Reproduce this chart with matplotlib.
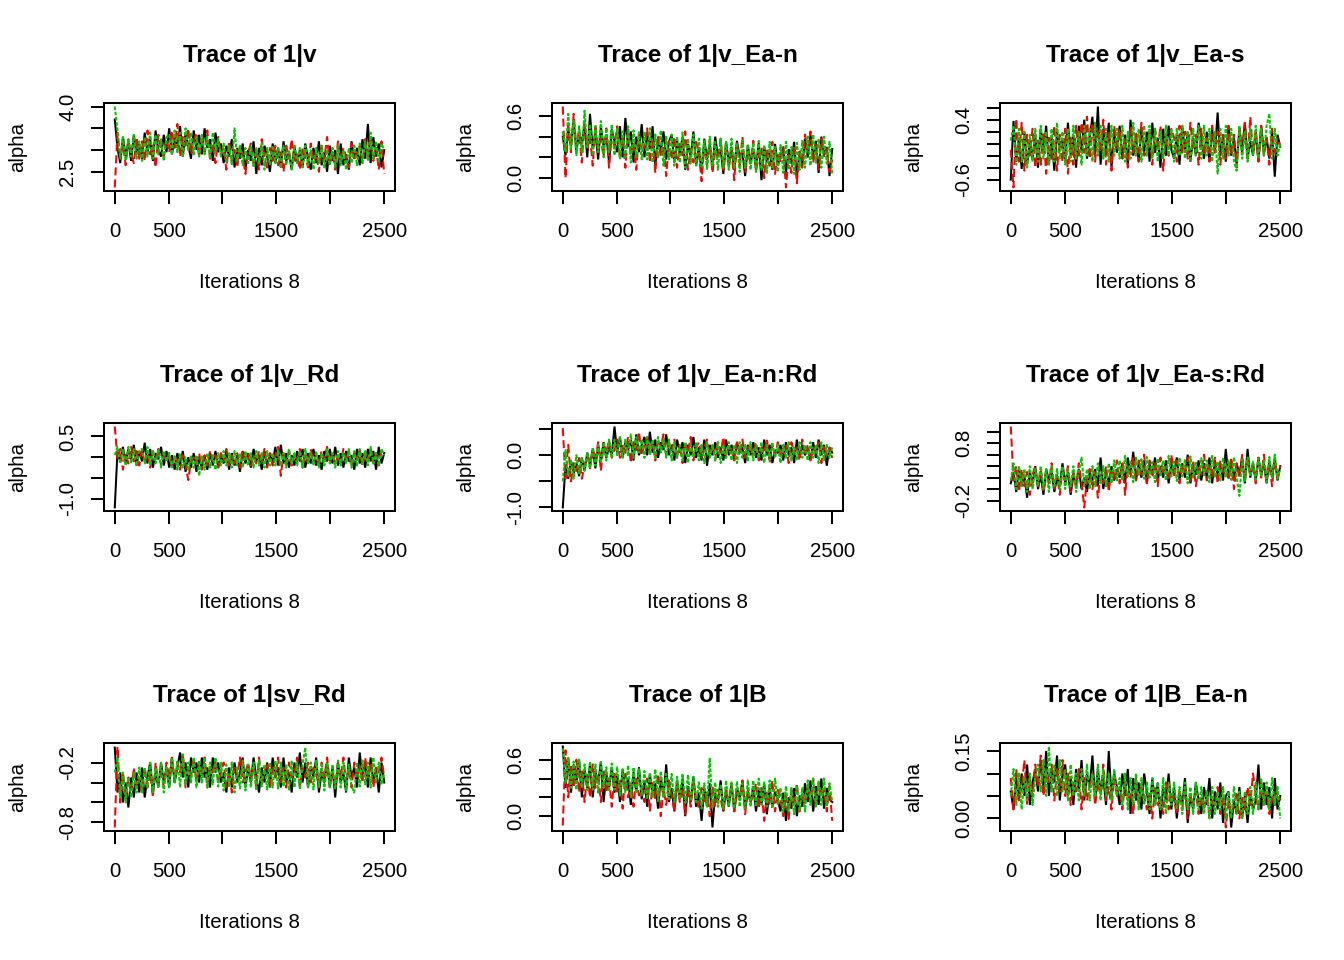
# Trace plots of 3 MCMC chains (alpha) for 9 parameters, R/coda style

import numpy as np
import matplotlib.pyplot as plt

plt.rcParams['font.family'] = ['Liberation Sans', 'DejaVu Sans']

n_iter = 2500

# values, 100 samples per chain spread evenly over the 2500 iterations
v_c1 = [3.70, 3.05, 2.70, 3.30, 2.85, 3.20, 2.75, 3.35, 2.90, 3.15,
        2.80, 3.40, 2.95, 3.25, 2.75, 3.45, 3.00, 2.85, 3.35, 2.95,
        3.50, 2.90, 3.30, 3.05, 3.55, 2.85, 3.40, 3.10, 2.80, 3.45,
        3.00, 3.35, 2.90, 3.50, 3.05, 3.25, 2.75, 3.40, 2.95, 3.15,
        2.70, 3.10, 2.85, 3.25, 2.60, 3.05, 2.80, 3.15, 2.55, 3.00,
        2.75, 3.20, 2.45, 3.05, 2.65, 3.10, 2.85, 2.50, 3.15, 2.70,
        3.05, 2.60, 3.20, 2.75, 2.95, 2.55, 3.10, 2.70, 3.00, 2.60,
        3.15, 2.80, 2.55, 3.05, 2.70, 3.20, 2.65, 2.95, 2.50, 3.10,
        2.75, 3.00, 2.45, 3.15, 2.65, 2.90, 2.55, 3.20, 2.80, 3.05,
        2.65, 3.25, 2.80, 3.60, 2.70, 3.30, 2.85, 3.15, 2.60, 3.00]
v_c2 = [2.14, 3.40, 2.85, 3.15, 2.65, 3.25, 2.90, 2.70, 3.30, 2.80,
        3.20, 2.75, 3.45, 2.90, 3.10, 2.60, 3.35, 3.00, 2.85, 3.25,
        2.95, 3.45, 3.05, 3.60, 2.85, 3.30, 3.10, 3.50, 2.90, 3.20,
        3.40, 2.85, 3.25, 2.95, 3.45, 2.80, 3.15, 2.70, 3.30, 2.90,
        3.05, 2.55, 3.20, 2.75, 3.00, 2.60, 3.10, 2.85, 2.45, 2.95,
        3.15, 2.70, 2.95, 2.55, 3.25, 2.80, 2.60, 3.05, 2.75, 3.10,
        2.65, 2.95, 2.50, 3.10, 2.80, 3.25, 2.70, 2.90, 2.55, 3.05,
        2.85, 2.60, 3.15, 2.75, 2.95, 2.50, 3.10, 2.80, 3.30, 2.65,
        2.95, 2.55, 3.20, 2.70, 3.05, 2.85, 2.60, 3.15, 2.75, 2.95,
        3.10, 2.70, 3.25, 2.85, 3.35, 2.75, 3.05, 2.55, 3.20, 2.45]
v_c3 = [4.00, 3.45, 2.80, 3.30, 2.75, 3.25, 2.85, 3.35, 2.80, 3.20,
        2.75, 3.30, 2.85, 3.40, 2.80, 3.35, 2.90, 3.25, 2.75, 3.30,
        3.35, 2.90, 3.45, 2.95, 3.40, 2.85, 3.50, 3.00, 3.40, 2.90,
        3.30, 2.85, 3.35, 2.90, 3.30, 2.80, 3.40, 2.95, 3.25, 2.85,
        3.15, 2.70, 3.10, 2.65, 3.50, 2.75, 3.10, 2.65, 3.05, 2.70,
        3.10, 2.60, 3.05, 2.70, 3.15, 2.55, 3.05, 2.65, 3.10, 2.70,
        3.05, 2.60, 3.10, 2.65, 3.00, 2.55, 3.10, 2.70, 3.05, 2.60,
        3.10, 2.65, 3.00, 2.55, 3.05, 2.70, 3.10, 2.60, 3.00, 2.65,
        3.05, 2.60, 3.10, 2.65, 3.00, 2.55, 3.05, 2.70, 3.10, 2.65,
        3.15, 2.70, 3.20, 2.75, 3.40, 2.80, 3.20, 2.70, 3.15, 3.00]

v_ean_c1 = [0.40, 0.22, 0.48, 0.30, 0.56, 0.25, 0.45, 0.33, 0.52, 0.20,
            0.62, 0.28, 0.44, 0.18, 0.50, 0.30, 0.42, 0.15, 0.47, 0.35,
            0.25, 0.50, 0.20, 0.58, 0.30, 0.45, 0.15, 0.40, 0.25, 0.52,
            0.20, 0.44, 0.28, 0.50, 0.12, 0.38, 0.25, 0.45, 0.18, 0.35,
            0.42, 0.15, 0.36, 0.22, 0.40, 0.08, 0.33, 0.20, 0.45, 0.12,
            0.30, 0.05, 0.38, 0.18, 0.32, 0.10, 0.40, 0.22, 0.28, 0.04,
            0.35, 0.15, 0.30, 0.08, 0.36, 0.20, 0.25, 0.02, 0.32, 0.14,
            0.28, 0.10, 0.34, -0.02, 0.30, 0.15, 0.26, 0.08, 0.33, 0.12,
            0.22, 0.30, 0.05, 0.28, 0.14, 0.35, 0.00, 0.26, 0.12, 0.38,
            0.20, 0.42, 0.18, 0.36, 0.05, 0.40, 0.22, 0.30, 0.02, 0.28]
v_ean_c2 = [0.69, 0.00, 0.50, 0.25, 0.62, 0.30, 0.45, 0.15, 0.55, 0.28,
            0.40, 0.12, 0.52, 0.25, 0.38, 0.20, 0.48, 0.10, 0.42, 0.30,
            0.50, 0.18, 0.40, 0.10, 0.47, 0.22, 0.35, 0.08, 0.44, 0.25,
            0.30, 0.48, 0.15, 0.38, 0.05, 0.42, 0.20, 0.32, 0.02, 0.36,
            0.18, 0.40, 0.10, 0.33, 0.22, 0.45, 0.08, 0.28, 0.15, 0.35,
            0.25, -0.03, 0.32, 0.12, 0.36, 0.05, 0.28, 0.18, 0.38, 0.08,
            0.30, 0.10, 0.26, -0.02, 0.34, 0.12, 0.40, 0.05, 0.24, 0.15,
            0.36, 0.06, 0.22, 0.30, 0.00, 0.28, 0.12, 0.35, 0.04, 0.25,
            0.15, 0.30, -0.09, 0.22, 0.05, 0.32, -0.05, 0.28, 0.10, 0.42,
            0.25, 0.45, 0.15, 0.32, 0.08, 0.38, 0.20, 0.28, 0.06, 0.18]
v_ean_c3 = [0.45, 0.25, 0.62, 0.28, 0.55, 0.22, 0.50, 0.25, 0.65, 0.30,
            0.52, 0.22, 0.50, 0.25, 0.55, 0.20, 0.48, 0.25, 0.52, 0.22,
            0.48, 0.18, 0.45, 0.20, 0.50, 0.15, 0.46, 0.20, 0.44, 0.18,
            0.45, 0.18, 0.48, 0.15, 0.42, 0.20, 0.46, 0.12, 0.40, 0.18,
            0.42, 0.12, 0.40, 0.15, 0.44, 0.10, 0.38, 0.14, 0.42, 0.12,
            0.38, 0.10, 0.36, 0.08, 0.40, 0.12, 0.35, 0.08, 0.38, 0.10,
            0.35, 0.08, 0.38, 0.10, 0.34, 0.06, 0.36, 0.10, 0.32, 0.08,
            0.34, 0.06, 0.36, 0.08, 0.32, 0.05, 0.35, 0.10, 0.30, 0.06,
            0.32, 0.05, 0.35, 0.08, 0.30, 0.04, 0.34, 0.08, 0.36, 0.10,
            0.40, 0.12, 0.42, 0.15, 0.38, 0.10, 0.40, 0.14, 0.35, 0.04]

v_eas_c1 = [-0.60, 0.38, -0.30, 0.10, -0.42, 0.20, -0.35, 0.05, -0.25, 0.15,
            -0.40, 0.25, -0.15, 0.30, -0.35, 0.10, -0.45, 0.20, -0.10, 0.05,
            -0.30, 0.35, -0.20, 0.15, -0.40, 0.30, -0.15, 0.40, -0.25, 0.10,
            0.45, -0.20, 0.62, -0.35, 0.25, -0.10, 0.35, -0.40, 0.20, -0.15,
            0.30, -0.25, 0.15, -0.35, 0.40, -0.20, 0.10, -0.30, 0.25, -0.15,
            0.20, -0.30, 0.35, -0.15, 0.10, -0.40, 0.25, -0.20, 0.30, -0.10,
            -0.25, 0.15, -0.35, 0.30, -0.15, 0.20, -0.30, 0.10, -0.20, 0.35,
            0.10, -0.25, 0.20, -0.30, 0.25, -0.15, 0.52, -0.20, 0.15, -0.30,
            0.30, -0.20, 0.10, -0.35, 0.25, -0.15, 0.35, -0.25, 0.05, -0.20,
            0.20, -0.30, 0.30, -0.15, 0.10, -0.25, 0.20, -0.55, 0.15, -0.05]
v_eas_c2 = [-0.10, -0.73, 0.42, -0.30, 0.35, -0.45, 0.15, -0.20, 0.25, -0.40,
            0.05, -0.35, 0.20, -0.50, 0.10, -0.25, 0.30, -0.45, 0.15, -0.30,
            0.25, -0.50, 0.10, -0.35, 0.30, -0.20, 0.35, -0.15, 0.45, -0.25,
            0.35, -0.30, 0.25, -0.15, 0.40, -0.35, 0.20, -0.45, 0.30, -0.10,
            0.25, -0.25, 0.10, -0.40, 0.30, -0.15, 0.20, -0.30, 0.35, -0.20,
            -0.15, 0.20, -0.35, 0.25, -0.10, 0.30, -0.45, 0.15, -0.20, 0.25,
            0.10, -0.30, 0.30, -0.15, 0.20, -0.25, 0.35, -0.10, 0.15, -0.35,
            0.25, -0.20, 0.10, -0.30, 0.30, -0.15, 0.20, -0.35, 0.15, -0.25,
            0.30, -0.20, 0.15, -0.40, 0.25, -0.10, 0.35, -0.25, 0.45, -0.15,
            0.20, -0.30, 0.30, -0.20, 0.10, -0.35, 0.25, -0.15, 0.10, -0.05]
v_eas_c3 = [0.05, 0.30, -0.35, 0.25, -0.30, 0.20, -0.40, 0.15, -0.30, 0.25,
            -0.30, 0.30, -0.25, 0.20, -0.35, 0.25, -0.30, 0.35, -0.25, 0.20,
            -0.35, 0.25, -0.30, 0.30, -0.25, 0.20, -0.35, 0.30, -0.20, 0.25,
            -0.30, 0.35, -0.20, 0.30, -0.25, 0.25, -0.30, 0.30, -0.20, 0.25,
            -0.25, 0.30, -0.30, 0.20, -0.25, 0.35, -0.20, 0.25, -0.30, 0.30,
            -0.20, 0.30, -0.25, 0.25, -0.30, 0.20, -0.25, 0.30, -0.20, 0.25,
            -0.30, 0.25, -0.20, 0.30, -0.25, 0.20, -0.30, 0.25, -0.20, 0.30,
            -0.25, 0.30, -0.20, 0.25, -0.30, 0.20, -0.50, 0.25, -0.25, 0.30,
            -0.20, 0.25, -0.30, -0.45, 0.30, -0.25, 0.20, -0.30, 0.25, -0.20,
            0.30, -0.25, 0.25, -0.20, 0.30, 0.50, -0.25, 0.25, -0.20, 0.00]

v_rd_c1 = [-1.21, 0.15, -0.10, 0.25, -0.15, 0.20, -0.05, 0.30, -0.20, 0.15,
           -0.10, 0.35, -0.15, 0.20, -0.25, 0.10, -0.05, 0.25, -0.20, 0.15,
           -0.25, 0.05, -0.30, 0.10, -0.20, 0.15, -0.35, 0.00, -0.25, 0.10,
           -0.35, -0.05, -0.25, 0.05, -0.30, 0.10, -0.20, 0.15, -0.25, 0.05,
           -0.15, 0.15, -0.30, 0.10, -0.20, 0.05, -0.35, 0.15, -0.15, 0.10,
           -0.25, 0.20, -0.10, 0.05, -0.30, 0.15, -0.20, 0.10, -0.15, 0.25,
           -0.20, 0.30, -0.15, 0.10, -0.25, 0.05, -0.20, 0.15, -0.10, 0.20,
           -0.25, 0.10, -0.15, 0.20, -0.20, 0.05, -0.30, 0.15, -0.10, 0.20,
           -0.15, 0.25, -0.20, 0.10, -0.25, 0.15, -0.10, 0.05, -0.30, 0.20,
           -0.15, 0.10, -0.25, 0.20, -0.10, 0.15, -0.30, 0.25, -0.15, 0.10]
v_rd_c2 = [0.74, -0.05, 0.20, -0.30, 0.10, -0.15, 0.25, -0.10, 0.15, -0.20,
           0.20, -0.15, 0.10, -0.25, 0.15, -0.05, 0.20, -0.20, 0.05, -0.10,
           0.10, -0.25, 0.05, -0.10, -0.30, 0.05, -0.20, -0.55, -0.10, 0.00,
           -0.15, 0.10, -0.30, 0.05, -0.20, 0.15, -0.10, 0.05, -0.25, 0.10,
           -0.10, 0.20, -0.20, 0.05, -0.15, 0.10, -0.25, 0.15, -0.05, 0.10,
           -0.20, 0.05, -0.15, 0.15, -0.10, 0.20, -0.25, 0.10, -0.20, 0.05,
           0.25, -0.45, 0.10, -0.15, 0.15, -0.20, 0.05, -0.10, 0.20, -0.25,
           0.10, -0.15, 0.20, -0.10, 0.05, -0.20, 0.15, -0.05, 0.25, -0.15,
           0.10, -0.20, 0.05, -0.15, 0.20, -0.10, 0.15, -0.25, 0.10, -0.05,
           0.15, -0.20, 0.05, -0.10, 0.20, -0.15, 0.10, -0.20, 0.15, 0.05]
v_rd_c3 = [0.05, 0.25, -0.15, 0.20, -0.20, 0.25, -0.15, 0.20, -0.20, 0.15,
           0.20, -0.15, 0.25, -0.20, 0.15, -0.15, 0.20, -0.25, 0.15, -0.10,
           0.10, -0.25, 0.05, -0.30, 0.10, -0.25, 0.00, -0.30, 0.05, -0.25,
           0.05, -0.45, 0.05, -0.30, 0.10, -0.25, 0.05, -0.30, 0.10, -0.20,
           0.15, -0.20, 0.10, -0.25, 0.15, -0.20, 0.10, -0.25, 0.15, -0.20,
           0.10, -0.25, 0.15, -0.20, 0.10, -0.25, 0.15, -0.20, 0.10, -0.20,
           0.15, -0.20, 0.10, -0.25, 0.20, -0.15, 0.10, -0.20, 0.15, -0.25,
           0.20, -0.15, 0.10, -0.20, 0.15, -0.25, 0.10, -0.20, 0.20, -0.15,
           0.10, -0.25, 0.15, -0.20, 0.10, -0.15, 0.20, -0.25, 0.15, -0.20,
           0.20, -0.15, 0.15, -0.20, 0.25, -0.15, 0.10, -0.20, 0.20, 0.05]

v_eanrd_c1 = [-1.00, -0.20, -0.45, -0.10, -0.35, -0.15, -0.40, -0.05, -0.30, 0.05,
              -0.20, 0.10, -0.25, 0.20, -0.10, 0.25, -0.05, 0.15, 0.00, 0.55,
              0.05, 0.35, -0.05, 0.25, 0.10, 0.30, -0.10, 0.40, 0.00, 0.20,
              0.35, 0.00, 0.45, 0.05, 0.30, -0.05, 0.25, 0.10, 0.40, 0.00,
              0.20, -0.10, 0.30, 0.05, 0.25, -0.15, 0.20, 0.00, 0.35, -0.05,
              0.15, -0.10, 0.30, -0.20, 0.20, 0.00, 0.25, -0.05, 0.15, -0.10,
              0.30, 0.00, 0.20, -0.10, 0.25, 0.05, 0.15, -0.15, 0.20, 0.00,
              0.25, -0.05, 0.15, -0.10, 0.30, 0.00, 0.20, -0.15, 0.10, 0.05,
              0.20, -0.10, 0.25, 0.00, 0.15, -0.15, 0.30, -0.05, 0.20, 0.00,
              0.15, -0.10, 0.25, -0.05, 0.30, 0.00, 0.20, -0.20, 0.15, 0.05]
v_eanrd_c2 = [0.52, -0.45, 0.20, -0.50, -0.15, -0.30, -0.05, -0.45, -0.20, 0.00,
              -0.25, 0.15, -0.10, 0.25, -0.30, 0.20, 0.05, 0.30, -0.05, 0.10,
              0.30, -0.05, 0.20, 0.05, 0.35, -0.15, 0.25, 0.10, 0.45, 0.00,
              0.20, 0.35, 0.05, 0.25, -0.10, 0.30, 0.15, 0.40, 0.00, 0.25,
              0.10, 0.30, -0.05, 0.20, -0.15, 0.25, 0.05, 0.35, -0.10, 0.15,
              0.25, -0.05, 0.15, 0.30, 0.00, 0.20, -0.10, 0.25, 0.05, 0.35,
              -0.05, 0.20, 0.10, -0.10, 0.25, 0.00, 0.30, -0.05, 0.15, 0.20,
              0.00, 0.25, -0.10, 0.15, 0.05, 0.30, -0.15, 0.20, 0.00, 0.25,
              -0.05, 0.15, 0.20, -0.15, 0.25, 0.05, 0.15, -0.10, 0.30, 0.00,
              0.20, -0.10, 0.15, 0.05, 0.25, -0.15, 0.20, 0.00, 0.15, -0.05]
v_eanrd_c3 = [-0.50, 0.10, -0.40, -0.10, -0.45, 0.00, -0.35, -0.05, -0.30, 0.05,
              -0.25, 0.15, -0.20, 0.20, -0.15, 0.25, -0.10, 0.30, -0.05, 0.30,
              0.00, 0.35, -0.05, 0.30, 0.00, 0.40, -0.05, 0.35, 0.05, 0.30,
              -0.05, 0.35, 0.00, 0.30, -0.05, 0.35, 0.05, 0.30, -0.05, 0.30,
              -0.10, 0.25, -0.05, 0.20, -0.10, 0.25, -0.15, 0.20, -0.05, 0.25,
              -0.10, 0.20, -0.15, 0.25, -0.05, 0.20, -0.10, 0.25, -0.15, 0.20,
              -0.05, 0.25, -0.10, 0.20, -0.15, 0.25, -0.05, 0.20, -0.10, 0.25,
              -0.10, 0.20, -0.05, 0.25, -0.15, 0.20, -0.10, 0.25, -0.05, 0.20,
              -0.15, 0.20, -0.05, 0.25, -0.10, 0.15, -0.10, 0.25, -0.05, 0.20,
              -0.10, 0.25, -0.05, 0.20, -0.15, 0.25, -0.10, 0.20, -0.05, 0.15]

v_easrd_c1 = [0.10, 0.30, -0.05, 0.35, 0.05, 0.25, -0.15, 0.30, 0.10, 0.40,
              0.00, 0.25, -0.10, 0.35, 0.15, 0.30, -0.05, 0.20, 0.05, 0.45,
              0.10, 0.30, -0.10, 0.25, 0.05, 0.35, 0.00, 0.20, -0.05, 0.30,
              0.15, 0.35, 0.05, 0.55, 0.00, 0.30, 0.10, 0.40, 0.15, 0.35,
              0.20, 0.45, 0.10, 0.55, 0.25, 0.65, 0.15, 0.45, 0.20, 0.50,
              0.10, 0.45, 0.25, 0.55, 0.15, 0.40, 0.20, 0.50, 0.10, 0.45,
              0.25, 0.55, 0.15, 0.45, 0.20, 0.60, 0.10, 0.40, 0.25, 0.50,
              0.15, 0.45, 0.20, 0.55, 0.10, 0.50, 0.25, 0.45, 0.15, 0.70,
              0.20, 0.50, 0.15, 0.45, 0.25, 0.55, 0.10, 0.70, 0.20, 0.45,
              0.15, 0.55, 0.25, 0.45, 0.10, 0.50, 0.20, 0.55, 0.15, 0.40]
v_easrd_c2 = [1.09, 0.15, 0.40, -0.05, 0.35, 0.05, 0.30, -0.10, 0.25, 0.40,
              0.05, 0.35, -0.05, 0.30, 0.10, 0.45, 0.00, 0.25, -0.10, 0.35,
              0.15, 0.40, -0.05, 0.30, 0.05, 0.45, 0.10, -0.32, 0.20, 0.35,
              0.00, 0.30, -0.15, 0.25, 0.10, 0.40, -0.05, 0.35, 0.15, 0.50,
              0.10, 0.45, -0.10, 0.40, 0.20, 0.55, 0.15, 0.50, 0.25, 0.60,
              0.10, 0.50, 0.20, 0.45, 0.05, 0.55, 0.25, 0.40, 0.15, 0.60,
              0.20, 0.50, 0.10, 0.45, 0.25, 0.55, 0.15, 0.50, 0.05, 0.40,
              0.25, 0.60, 0.15, 0.45, 0.20, 0.55, 0.10, 0.50, 0.25, 0.40,
              0.15, 0.55, 0.00, 0.45, 0.20, 0.60, 0.15, 0.50, 0.25, 0.45,
              0.10, 0.55, 0.20, 0.60, 0.15, 0.45, 0.05, 0.50, 0.20, 0.40]
v_easrd_c3 = [0.15, 0.45, 0.00, 0.40, 0.05, 0.35, -0.05, 0.40, 0.00, 0.35,
              0.05, 0.40, 0.00, 0.35, -0.05, 0.40, 0.05, 0.35, 0.00, 0.40,
              0.00, 0.35, 0.05, 0.40, -0.05, 0.30, 0.55, 0.05, 0.35, 0.00,
              0.40, 0.05, 0.45, 0.10, 0.40, 0.05, 0.45, 0.10, 0.50, 0.15,
              0.50, 0.15, 0.58, 0.22, 0.48, 0.12, 0.55, 0.25, 0.52, 0.18,
              0.56, 0.20, 0.47, 0.12, 0.53, 0.24, 0.50, 0.15, 0.58, 0.22,
              0.48, 0.14, 0.55, 0.22, 0.52, 0.10, 0.57, 0.20, 0.46, 0.16,
              0.54, 0.24, 0.50, 0.12, 0.58, 0.20, 0.48, 0.15, 0.55, 0.22,
              0.50, 0.16, 0.56, 0.20, -0.12, 0.52, 0.14, 0.55, 0.22, 0.48,
              0.16, 0.54, 0.22, 0.50, 0.12, 0.56, 0.20, 0.60, 0.18, 0.35]

sv_rd_c1 = [-0.05, -0.50, -0.30, -0.60, -0.40, -0.65, -0.35, -0.55, -0.30, -0.50,
            -0.25, -0.55, -0.35, -0.20, -0.50, -0.30, -0.45, -0.20, -0.40, -0.25,
            -0.45, -0.15, -0.40, -0.25, -0.10, -0.35, -0.20, -0.45, -0.15, -0.30,
            -0.20, -0.40, -0.15, -0.35, -0.25, -0.45, -0.15, -0.30, -0.20, -0.40,
            -0.30, -0.50, -0.25, -0.45, -0.20, -0.40, -0.30, -0.15, -0.45, -0.25,
            -0.40, -0.15, -0.35, -0.50, -0.25, -0.40, -0.20, -0.45, -0.15, -0.35,
            -0.25, -0.45, -0.15, -0.40, -0.30, -0.50, -0.20, -0.35, -0.10, -0.40,
            -0.20, -0.45, -0.25, -0.35, -0.15, -0.50, -0.30, -0.40, -0.20, -0.45,
            -0.25, -0.55, -0.20, -0.40, -0.30, -0.50, -0.15, -0.35, -0.25, -0.45,
            -0.10, -0.35, -0.20, -0.45, -0.15, -0.40, -0.25, -0.50, -0.20, -0.40]
sv_rd_c2 = [-0.85, -0.04, -0.60, -0.30, -0.55, -0.35, -0.50, -0.25, -0.45, -0.35,
            -0.50, -0.25, -0.45, -0.30, -0.55, -0.20, -0.40, -0.30, -0.45, -0.20,
            -0.35, -0.15, -0.40, -0.20, -0.30, -0.10, -0.45, -0.25, -0.35, -0.15,
            -0.40, -0.20, -0.35, -0.15, -0.45, -0.25, -0.30, -0.20, -0.40, -0.30,
            -0.20, -0.45, -0.30, -0.50, -0.25, -0.35, -0.15, -0.40, -0.30, -0.20,
            -0.35, -0.25, -0.45, -0.15, -0.40, -0.30, -0.20, -0.45, -0.25, -0.35,
            -0.15, -0.40, -0.25, -0.45, -0.20, -0.35, -0.30, -0.15, -0.45, -0.25,
            -0.35, -0.20, -0.40, -0.25, -0.30, -0.45, -0.20, -0.35, -0.15, -0.40,
            -0.30, -0.45, -0.20, -0.35, -0.15, -0.40, -0.25, -0.45, -0.20, -0.35,
            -0.25, -0.40, -0.15, -0.35, -0.20, -0.45, -0.25, -0.30, -0.15, -0.35]
sv_rd_c3 = [-0.30, -0.15, -0.55, -0.30, -0.60, -0.35, -0.55, -0.30, -0.50, -0.25,
            -0.50, -0.25, -0.45, -0.20, -0.50, -0.25, -0.45, -0.20, -0.50, -0.25,
            -0.45, -0.15, -0.40, -0.18, -0.45, -0.12, -0.42, -0.20, -0.40, -0.15,
            -0.45, -0.18, -0.40, -0.15, -0.45, -0.20, -0.42, -0.15, -0.44, -0.20,
            -0.48, -0.22, -0.45, -0.20, -0.50, -0.25, -0.46, -0.18, -0.48, -0.22,
            -0.45, -0.20, -0.48, -0.18, -0.44, -0.22, -0.47, -0.20, -0.45, -0.18,
            -0.46, -0.20, -0.44, -0.22, -0.48, -0.18, -0.45, -0.20, -0.47, -0.22,
            -0.05, -0.45, -0.20, -0.47, -0.18, -0.44, -0.22, -0.48, -0.20, -0.45,
            -0.22, -0.47, -0.18, -0.45, -0.20, -0.48, -0.22, -0.44, -0.50, -0.20,
            -0.44, -0.18, -0.42, -0.20, -0.45, -0.15, -0.40, -0.20, -0.42, -0.30]

b_c1 = [0.74, 0.30, 0.62, 0.25, 0.55, 0.35, 0.60, 0.20, 0.50, 0.30,
        0.55, 0.20, 0.48, 0.35, 0.58, 0.15, 0.45, 0.30, 0.52, 0.25,
        0.45, 0.15, 0.50, 0.28, 0.40, 0.12, 0.47, 0.25, 0.52, 0.18,
        0.38, 0.10, 0.45, 0.22, 0.35, 0.08, 0.42, 0.20, 0.55, 0.15,
        0.30, 0.05, 0.38, 0.18, 0.40, 0.00, 0.32, 0.15, 0.42, 0.10,
        0.25, -0.05, 0.30, 0.10, 0.35, -0.12, 0.25, 0.15, 0.38, 0.05,
        0.28, 0.10, 0.35, 0.05, 0.30, 0.18, 0.38, 0.08, 0.25, 0.15,
        0.32, 0.05, 0.28, 0.12, 0.35, 0.02, 0.30, 0.10, 0.26, 0.18,
        0.05, 0.25, -0.05, 0.20, 0.08, 0.30, 0.00, 0.22, 0.10, 0.35,
        0.15, 0.38, 0.05, 0.32, 0.12, 0.40, 0.08, 0.30, 0.18, 0.15]
b_c2 = [-0.10, 0.70, 0.20, 0.55, 0.30, 0.60, 0.25, 0.50, 0.15, 0.45,
        0.20, 0.55, 0.30, 0.45, 0.15, 0.50, 0.25, 0.40, 0.10, 0.45,
        0.25, 0.40, 0.08, 0.45, 0.20, 0.35, 0.10, 0.42, 0.22, 0.30,
        0.15, 0.40, 0.05, 0.35, 0.18, 0.45, 0.00, 0.30, 0.12, 0.38,
        0.22, 0.05, 0.35, 0.15, 0.30, 0.02, 0.28, 0.10, 0.36, 0.20,
        0.08, 0.30, 0.15, 0.25, 0.00, 0.32, 0.10, 0.28, 0.18, 0.05,
        0.30, 0.12, 0.35, 0.05, 0.25, 0.18, 0.38, 0.02, 0.28, 0.15,
        0.22, 0.35, 0.08, 0.30, -0.05, 0.25, 0.12, 0.38, 0.05, 0.28,
        0.18, 0.00, 0.22, -0.03, 0.28, 0.10, 0.35, 0.05, 0.25, 0.12,
        0.30, 0.15, 0.40, 0.10, 0.35, 0.20, 0.28, 0.05, 0.32, -0.05]
b_c3 = [0.72, 0.35, 0.62, 0.30, 0.58, 0.28, 0.60, 0.30, 0.55, 0.28,
        0.58, 0.28, 0.55, 0.25, 0.57, 0.30, 0.52, 0.26, 0.56, 0.28,
        0.52, 0.22, 0.50, 0.25, 0.54, 0.20, 0.52, 0.24, 0.50, 0.22,
        0.48, 0.18, 0.46, 0.20, 0.50, 0.16, 0.48, 0.20, 0.45, 0.18,
        0.45, 0.15, 0.42, 0.18, 0.45, 0.14, 0.44, 0.16, 0.42, 0.15,
        0.36, 0.08, 0.35, 0.10, 0.62, 0.08, 0.36, 0.10, 0.34, 0.08,
        0.38, 0.10, 0.36, 0.08, 0.37, 0.10, 0.35, 0.08, 0.38, 0.10,
        0.38, 0.10, 0.40, 0.12, 0.36, 0.10, 0.38, 0.08, 0.40, 0.12,
        0.30, 0.04, 0.32, 0.05, 0.30, 0.02, 0.33, 0.06, 0.30, 0.05,
        0.38, 0.12, 0.40, 0.10, 0.38, 0.12, 0.40, 0.10, 0.35, 0.15]

b_ean_c1 = [0.06, 0.02, 0.09, 0.04, 0.10, 0.05, 0.12, 0.03, 0.08, 0.11,
            0.06, 0.13, 0.07, 0.15, 0.05, 0.11, 0.08, 0.14, 0.04, 0.10,
            0.12, 0.05, 0.09, 0.03, 0.11, 0.06, 0.13, 0.04, 0.10, 0.07,
            0.14, 0.04, 0.11, 0.06, 0.09, 0.03, 0.15, 0.05, 0.10, 0.07,
            0.03, 0.10, 0.05, 0.11, 0.01, 0.09, 0.04, 0.08, 0.02, 0.10,
            0.06, 0.01, 0.09, 0.03, 0.08, 0.00, 0.07, 0.04, 0.10, 0.02,
            0.07, 0.00, 0.06, 0.03, 0.09, -0.01, 0.05, 0.02, 0.08, 0.04,
            0.01, 0.07, 0.03, 0.09, 0.00, 0.06, 0.02, 0.08, -0.01, 0.05,
            0.06, -0.02, 0.04, 0.01, 0.07, 0.00, 0.05, -0.01, 0.06, 0.02,
            0.04, 0.12, 0.02, 0.08, 0.03, 0.07, 0.00, 0.09, 0.02, 0.05]
b_ean_c2 = [0.09, 0.02, 0.11, 0.04, 0.07, 0.13, 0.03, 0.09, 0.05, 0.12,
            0.07, 0.14, 0.05, 0.10, 0.08, 0.12, 0.04, 0.11, 0.06, 0.13,
            0.05, 0.10, 0.03, 0.08, 0.06, 0.11, 0.02, 0.09, 0.04, 0.07,
            0.10, 0.03, 0.08, 0.05, 0.12, 0.04, 0.07, 0.02, 0.09, 0.05,
            0.07, 0.02, 0.08, 0.04, 0.06, 0.01, 0.09, 0.03, 0.07, 0.05,
            0.02, 0.06, 0.00, 0.07, 0.03, 0.05, 0.01, 0.08, 0.02, 0.06,
            0.04, 0.01, 0.06, 0.02, 0.07, 0.00, 0.05, 0.03, 0.06, 0.01,
            0.05, 0.02, 0.06, 0.00, 0.04, 0.03, 0.07, 0.01, 0.05, -0.02,
            0.04, 0.01, 0.03, 0.06, 0.00, 0.05, 0.02, 0.07, 0.03, 0.10,
            0.05, 0.02, 0.08, 0.03, 0.06, 0.01, 0.05, 0.03, 0.06, 0.04]
b_ean_c3 = [0.05, 0.11, 0.03, 0.10, 0.02, 0.09, 0.04, 0.10, 0.03, 0.09,
            0.12, 0.06, 0.13, 0.05, 0.16, 0.06, 0.12, 0.05, 0.13, 0.06,
            0.11, 0.04, 0.12, 0.05, 0.10, 0.04, 0.11, 0.05, 0.12, 0.04,
            0.10, 0.05, 0.12, 0.04, 0.11, 0.05, 0.10, 0.04, 0.11, 0.05,
            0.09, 0.03, 0.10, 0.02, 0.09, 0.03, 0.10, 0.02, 0.09, 0.03,
            0.08, 0.02, 0.09, 0.03, 0.08, 0.02, 0.09, 0.01, 0.08, 0.03,
            0.08, 0.02, 0.07, 0.01, 0.08, 0.02, 0.07, 0.01, 0.08, 0.02,
            0.07, 0.01, 0.06, 0.00, 0.07, 0.01, 0.06, 0.02, 0.07, 0.00,
            0.06, 0.00, 0.07, 0.01, 0.06, 0.00, 0.06, 0.01, 0.07, 0.01,
            0.08, 0.02, 0.09, 0.03, 0.08, 0.02, 0.09, 0.03, 0.07, 0.00]

titles = ['Trace of 1|v', 'Trace of 1|v_Ea-n', 'Trace of 1|v_Ea-s',
          'Trace of 1|v_Rd', 'Trace of 1|v_Ea-n:Rd', 'Trace of 1|v_Ea-s:Rd',
          'Trace of 1|sv_Rd', 'Trace of 1|B', 'Trace of 1|B_Ea-n']
chains = [(v_c1, v_c2, v_c3), (v_ean_c1, v_ean_c2, v_ean_c3),
          (v_eas_c1, v_eas_c2, v_eas_c3), (v_rd_c1, v_rd_c2, v_rd_c3),
          (v_eanrd_c1, v_eanrd_c2, v_eanrd_c3), (v_easrd_c1, v_easrd_c2, v_easrd_c3),
          (sv_rd_c1, sv_rd_c2, sv_rd_c3), (b_c1, b_c2, b_c3),
          (b_ean_c1, b_ean_c2, b_ean_c3)]
y_ticks = [[2.5, 3.0, 3.5, 4.0], [0.0, 0.2, 0.4, 0.6],
           [-0.6, -0.4, -0.2, 0.0, 0.2, 0.4, 0.6], [-1.0, -0.5, 0.0, 0.5],
           [-1.0, -0.5, 0.0, 0.5], [-0.2, 0.0, 0.2, 0.4, 0.6, 0.8, 1.0],
           [-0.8, -0.6, -0.4, -0.2], [0.0, 0.2, 0.4, 0.6],
           [0.0, 0.05, 0.10, 0.15]]
y_labels = [['2.5', '', '', '4.0'], ['0.0', '', '', '0.6'],
            ['-0.6', '', '', '', '', '0.4', ''], ['-1.0', '', '', '0.5'],
            ['-1.0', '', '0.0', ''], ['-0.2', '', '', '', '', '0.8', ''],
            ['-0.8', '', '', '-0.2'], ['0.0', '', '', '0.6'],
            ['0.00', '', '', '0.15']]
x_ticks = [0, 500, 1000, 1500, 2000, 2500]
x_labels = ['0', '500', '', '1500', '', '2500']

colors = ['black', '#FF0000', '#00C800']
# dash patterns tightened a little: with fewer points than the real chains
# the original R dashes/dots would leave the bands too sparse
styles = ['-', (0, (4, 2)), (0, (1.8, 0.8))]

W, H = 1344, 960
fig = plt.figure(figsize=(W / 100, H / 100), dpi=100)

# plot box in pixels (first panel), then step per column / row
bx, by, bw, bh = 104, 103.3, 291, 87.4
col_step, row_step = 448, 320
lw = 1.45

for i in range(9):
    r, c = divmod(i, 3)
    x0 = bx + c * col_step
    y0 = by + r * row_step
    ax = fig.add_axes([x0 / W, 1 - (y0 + bh) / H, bw / W, bh / H])

    for vals, col, ls in zip(chains[i], colors, styles):
        it = np.linspace(1, n_iter, len(vals))
        ax.plot(it, vals, color=col, linestyle=ls, lw=lw,
                solid_joinstyle='miter', dash_capstyle='butt')

    # R-style axis range: data range plus 4 % on each side
    allv = np.concatenate([np.asarray(v) for v in chains[i]])
    lo, hi = allv.min(), allv.max()
    pad = 0.04 * (hi - lo)
    ax.set_ylim(lo - pad, hi + pad)
    ax.set_xlim(1 - 0.04 * (n_iter - 1), n_iter + 0.04 * (n_iter - 1))

    ax.set_xticks(x_ticks)
    ax.set_xticklabels(x_labels)
    ax.set_yticks(y_ticks[i])
    ax.set_yticklabels(y_labels[i], rotation=90, va='center')
    ax.tick_params(axis='both', direction='out', length=9.4, width=lw,
                   labelsize=14.7, color='black')
    ax.tick_params(axis='x', pad=13)
    ax.tick_params(axis='y', pad=10)
    for sp in ax.spines.values():
        sp.set_linewidth(lw)

    cx = (x0 + bw / 2) / W
    fig.text(cx, 1 - (y0 - 41.3) / H, titles[i], ha='center', va='baseline',
             fontsize=17.5, fontweight='bold')
    fig.text(cx, 1 - (y0 + 184.7) / H, 'Iterations 8', ha='center',
             va='baseline', fontsize=14.7)
    fig.text((18 + c * col_step) / W, 1 - (y0 + bh / 2) / H, 'alpha',
             rotation=90, ha='center', va='center', fontsize=14.7)

fig.savefig('out.png', dpi=100)
